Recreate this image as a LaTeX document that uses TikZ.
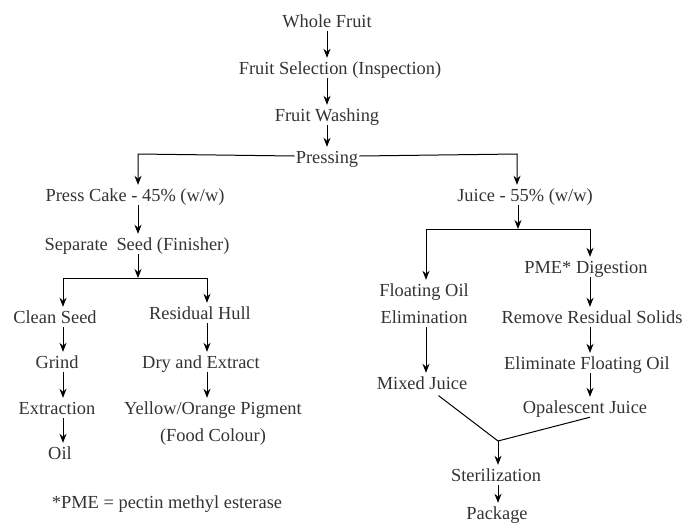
\documentclass[tikz,border=0pt]{standalone}
\usepackage{fontspec}
\setmainfont{Liberation Serif}
\usetikzlibrary{arrows.meta}
\newcommand\fsz{\fontsize{18.4}{27}\selectfont}
\begin{document}
\begin{tikzpicture}[x=1pt,y=-1pt,
  lbl/.style={font=\fsz, text=black!80, text height=15pt, text depth=3pt,
    inner xsep=1pt, inner ysep=1pt, align=center},
  lbltwo/.style={lbl, text height=42pt},
  arr/.style={-{Stealth[length=9pt,width=7pt]}, line width=1pt},
  ln/.style={line width=1pt}]
\useasboundingbox (0,0) rectangle (686,523);
% nodes
\node[lbl] (whole)  at (327,21)  {Whole Fruit};
\node[lbl] (select) at (340,68)  {Fruit Selection (Inspection)};
\node[lbl] (wash)   at (327,115) {Fruit Washing};
\node[lbl] (press)  at (327,157) {Pressing};
\node[lbl] (cake)   at (135,195) {Press Cake - 45\% (w/w)};
\node[lbl] (juice)  at (525,195) {Juice - 55\% (w/w)};
\node[lbl] (seed)   at (137,244) {Separate\hspace{4pt} Seed (Finisher)};
\node[lbl] (clean)  at (55,317)  {Clean Seed};
\node[lbl] (hull)   at (200,313) {Residual Hull};
\node[lbl] (grind)  at (57,362)  {Grind};
\node[lbl] (dry)    at (201,362) {Dry and Extract};
\node[lbl] (extr)   at (57,408)  {Extraction};
\node[lbl] (oil)    at (60,453)  {Oil};
\node[lbltwo] (pig)   at (213,421.5) {Yellow/Orange Pigment\\(Food Colour)};
\node[lbltwo] (float) at (424,303.5) {Floating Oil\\Elimination};
\node[lbl] (pme)    at (586,267) {PME* Digestion};
\node[lbl] (remove) at (592,317) {Remove Residual Solids};
\node[lbl] (elim)   at (587,363) {Eliminate Floating Oil};
\node[lbl] (mixed)  at (422,383) {Mixed Juice};
\node[lbl] (opal)   at (585,407) {Opalescent Juice};
\node[lbl] (steril) at (496,475) {Sterilization};
\node[lbl] (pack)   at (497,513) {Package};
\node[lbl] (note)   at (167,502) {*PME = pectin methyl esterase};
% coordinates
\coordinate (pl)  at (138,154);
\coordinate (pr)  at (517,154);
\coordinate (b1)  at (138,278);
\coordinate (b1l) at (63,278);
\coordinate (b1r) at (207,278);
\coordinate (b2)  at (518,229);
\coordinate (b2l) at (426,229);
\coordinate (b2r) at (590,229);
\coordinate (j)   at (498,441);
% connectors
\draw[arr] (whole.south) -- (whole.south |- select.north);
\draw[arr] (select.south -| wash.north) -- (wash.north);
\draw[arr] (wash.south) -- (press.north);
\draw[arr] ([yshift=1pt]press.west) -- (pl) -- (pl |- cake.north);
\draw[arr] ([yshift=1pt]press.east) -- (pr) -- (pr |- juice.north);
\draw[arr] (cake.south -| pl) -- (seed.north -| pl);
\draw[arr] (seed.south -| pl) -- (b1);
\draw[ln] (b1l) -- (b1r);
\draw[arr] (b1l) -- (b1l |- clean.north);
\draw[arr] (b1r) -- (b1r |- hull.north);
\draw[arr] (clean.south -| b1l) -- (grind.north -| b1l);
\draw[arr] (grind.south -| b1l) -- (extr.north -| b1l);
\draw[arr] (extr.south -| b1l) -- (oil.north -| b1l);
\draw[arr] (hull.south -| b1r) -- (dry.north -| b1r);
\draw[arr] (dry.south -| b1r) -- (pig.north -| b1r);
\draw[arr] (juice.south -| b2) -- (b2);
\draw[ln] (b2l) -- (b2r);
\draw[arr] (b2l) -- (b2l |- float.north);
\draw[arr] (b2r) -- (b2r |- pme.north);
\draw[arr] (float.south -| b2l) -- (mixed.north -| b2l);
\draw[arr] (pme.south -| b2r) -- (remove.north -| b2r);
\draw[arr] (remove.south -| b2r) -- (elim.north -| b2r);
\draw[arr] (elim.south -| b2r) -- (opal.north -| b2r);
\draw[ln, shorten <=4pt] (mixed) -- (j);
\draw[ln] ([xshift=5pt]opal.south) -- (j);
\draw[arr] (j) -- (j |- steril.north);
\draw[arr] (steril.south -| j) -- (pack.north -| j);
\end{tikzpicture}
\end{document}
